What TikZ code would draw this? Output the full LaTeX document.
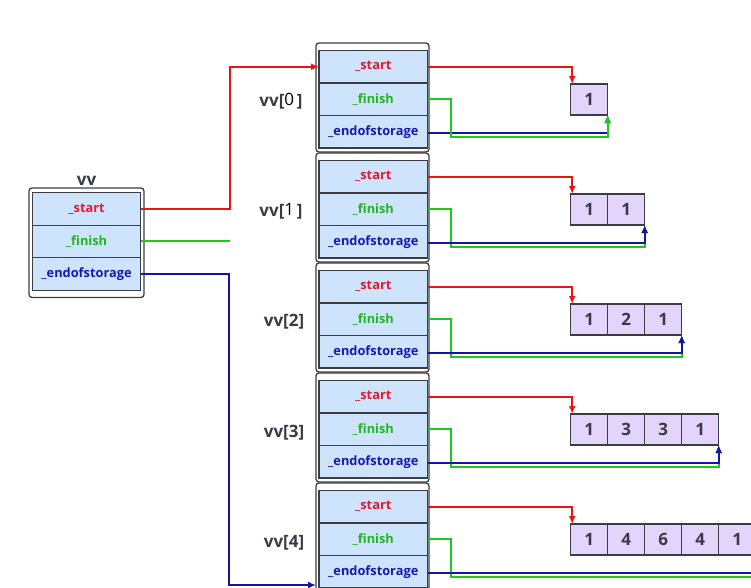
\documentclass[tikz,border=0pt]{standalone}
\usepackage{fontspec}
\setmainfont{Open Sans}
\usetikzlibrary{positioning,arrows.meta}
\definecolor{cellblue}{RGB}{206,228,252}
\definecolor{elemfill}{RGB}{226,212,250}
\definecolor{boxline}{RGB}{60,60,68}
\definecolor{numgray}{RGB}{58,58,70}
\definecolor{startred}{RGB}{232,24,48}
\definecolor{finishgreen}{RGB}{34,180,34}
\definecolor{endblue}{RGB}{24,24,180}
\definecolor{linered}{RGB}{235,20,20}
\definecolor{linegreen}{RGB}{30,200,30}
\definecolor{lineblue}{RGB}{20,20,170}
\newcommand\oddidx[1]{\raisebox{1.5pt}{\color{black}\fontseries{m}\selectfont #1}\,}

\begin{document}
\begin{tikzpicture}[x=1pt,y=-1pt]
  \tikzset{
cell/.style={rectangle,draw=boxline,fill=cellblue,line width=1.1pt,outer sep=0,inner sep=0,minimum width=108.5pt,minimum height=32.5pt,font=\bfseries\fontsize{12.8}{13}\selectfont},
elem/.style={rectangle,draw=boxline,fill=elemfill,line width=1.1pt,outer sep=0,inner sep=0,minimum width=37pt,minimum height=31pt,text=numgray,font=\bfseries\fontsize{17}{17}\selectfont},
frame/.style={draw=boxline,line width=1.3pt,rounded corners=3pt,fill=white},
name label/.style={text=numgray,font=\bfseries\fontsize{17}{17}\selectfont},
link/.style={line width=1.6pt,-{Latex[length=8pt,width=7pt]}}
}
  \useasboundingbox (0,0) rectangle (751,587);
  \clip (0,0) rectangle (751,587);

  % the vector vv itself
  \draw[frame] (29,188) rectangle (144,297.5);
  \node[name label] (vv) at (86.5,181) {vv};
  \node[cell,text=startred,anchor=north west] (start) at (32.3,192.7) {\_start};
  \node[cell,text=finishgreen,below=0pt of start] (finish) {\_finish};
  \node[cell,text=endblue,below=0pt of finish] (eos) {\_endofstorage};

  % the rows vv[0] .. vv[4]
  \foreach \k/\vals in {0/{1},1/{1,1},2/{1,2,1},3/{1,3,3,1},4/{1,4,6,4,1}} {
    \pgfmathtruncatemacro\n{\k+1}
    \draw[frame] (316,{43+110*\k}) rectangle (429,{152+110*\k});
    \node[cell,text=startred,anchor=north west] (s\k) at (319,{50.5+110*\k}) {\_start};
    \node[cell,text=finishgreen,below=0pt of s\k] (f\k) {\_finish};
    \node[cell,text=endblue,below=0pt of f\k] (e\k) {\_endofstorage};
    \ifnum\k<2
      \node[name label] (l\k) at (281,{101+110.5*\k}) {vv[\oddidx{\k}]};
    \else
      \node[name label] (l\k) at (284,{101+110.5*\k}) {vv[\k]};
    \fi
    \foreach \v [count=\i] in \vals {
      \node[elem,anchor=north west] (a\k-\i) at ({570.7+37*(\i-1)},{84+110*\k}) {\v};
    }
    \draw[link,draw=linered] (s\k.east) -| ([xshift=1.5pt]a\k-1.north west);
    \ifnum\k=0
      \draw[link,draw=lineblue] ([yshift=-1pt]e\k.east) -| (a\k-\n.south east);
      \draw[link,draw=linegreen] (f\k.east) -| (451,{137+110*\k}) -| (a\k-\n.south east);
    \else
      \draw[link,draw=linegreen] (f\k.east) -| (451,{137+110*\k}) -| (a\k-\n.south east);
      \draw[link,draw=lineblue] ([yshift=-1pt]e\k.east) -| (a\k-\n.south east);
    \fi
  }

  % links out of vv
  \coordinate (tail) at (316,585);
  \draw[link,draw=linered] (start.east) -- ++(89,0) |- (s0.west);
  \draw[line width=1.6pt,draw=linegreen] ([yshift=0.5pt]finish.east) -- ++(89,0);
  \draw[link,draw=lineblue] (eos.east) -- ++(88,0) |- (tail);
\end{tikzpicture}
\end{document}
